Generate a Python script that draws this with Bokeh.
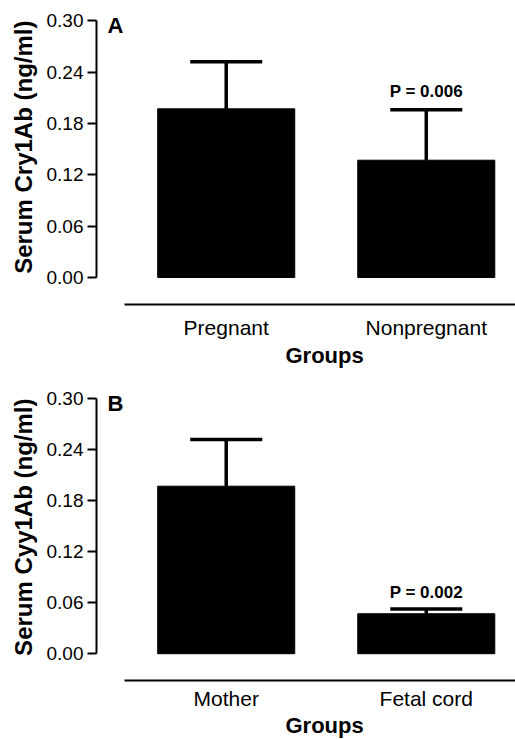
from bokeh.plotting import figure
from bokeh.models import Range1d, FixedTicker, Label, NumeralTickFormatter, Title
from bokeh.layouts import column
from bokeh.embed import file_html
from bokeh.resources import INLINE

# ---- data ----
panel_a_groups = ["Pregnant", "Nonpregnant"]
panel_a_means = [0.197, 0.137]
panel_a_sd = [0.055, 0.059]
panel_a_p = ["", "P = 0.006"]

panel_b_groups = ["Mother", "Fetal cord"]
panel_b_means = [0.197, 0.047]
panel_b_sd = [0.055, 0.0055]
panel_b_p = ["", "P = 0.002"]

y_ticks = [0.00, 0.06, 0.12, 0.18, 0.24, 0.30]

FONT = "Liberation Sans"


def make_panel(groups, means, sds, pvals, letter, ylabel, height, top_border,
               bottom_border, p_offset, tick_standoff, title_standoff):
    xs = [i + 1 for i in range(len(groups))]
    tops = [m + s for m, s in zip(means, sds)]
    cap_half = 0.18

    p = figure(width=515, height=height,
               x_range=Range1d(0.3516, 2.446), y_range=Range1d(-0.0315, 0.306),
               output_backend="svg", toolbar_location=None,
               min_border_left=95, min_border_right=0, min_border_top=top_border,
               min_border_bottom=bottom_border)
    p.outline_line_color = None
    p.grid.visible = False
    p.background_fill_color = "white"
    p.border_fill_color = "white"

    p.segment(x0=xs, y0=means, x1=xs, y1=tops, line_color="black", line_width=3.5)
    p.segment(x0=[x - cap_half for x in xs], y0=tops,
              x1=[x + cap_half for x in xs], y1=tops,
              line_color="black", line_width=3.5)
    p.vbar(x=xs, top=means, bottom=0, width=0.685, fill_color="black", line_color="black")

    ya = p.yaxis[0]
    ya.ticker = FixedTicker(ticks=y_ticks)
    ya.formatter = NumeralTickFormatter(format="0.00")
    ya.bounds = (0, 0.30)
    ya.major_tick_out = 9
    ya.major_tick_in = 0
    ya.minor_tick_out = 0
    ya.minor_tick_in = 0
    ya.major_tick_line_width = 2
    ya.axis_line_width = 2
    ya.major_label_standoff = 4
    ya.major_label_text_font = FONT
    ya.major_label_text_font_size = "19px"
    ya.major_label_text_color = "black"

    xa = p.xaxis[0]
    xa.ticker = FixedTicker(ticks=xs)
    xa.major_label_overrides = {x: g for x, g in zip(xs, groups)}
    xa.bounds = (0.49, 2.5)
    xa.major_tick_out = 0
    xa.major_tick_in = 0
    xa.minor_tick_out = 0
    xa.minor_tick_in = 0
    xa.axis_line_width = 2
    xa.major_label_standoff = tick_standoff
    xa.major_label_text_font = FONT
    xa.major_label_text_font_size = "21px"
    xa.major_label_text_color = "black"

    p.add_layout(Title(text=ylabel, align="right", offset=5, text_font=FONT,
                       text_font_style="bold", text_font_size="24px",
                       text_color="black", standoff=14), "left")
    p.add_layout(Title(text="Groups", align="left", offset=189, vertical_align="top",
                       text_font=FONT, text_font_style="bold", text_font_size="22px",
                       text_color="black", standoff=title_standoff), "below")

    for x, t, txt in zip(xs, tops, pvals):
        if txt:
            p.add_layout(Label(x=x, y=t, text=txt, y_offset=p_offset, text_align="center",
                               text_baseline="alphabetic", text_font=FONT,
                               text_font_style="bold", text_font_size="17px",
                               text_color="black"))

    p.add_layout(Label(x=11, x_units="screen", y=0.30, y_offset=-5, text=letter,
                       text_align="left", text_baseline="alphabetic", text_font=FONT,
                       text_font_style="bold", text_font_size="22px", text_color="black"))
    return p


pa = make_panel(panel_a_groups, panel_a_means, panel_a_sd, panel_a_p, "A",
                "Serum Cry1Ab (ng/ml)", 374, 15, 70, 18, 11, 2)
pb = make_panel(panel_b_groups, panel_b_means, panel_b_sd, panel_b_p, "B",
                "Serum Cyy1Ab (ng/ml)", 365, 19, 57, 17, 6, 0)

layout = column(pa, pb)
open("out.html", "w").write(file_html(layout, INLINE))
